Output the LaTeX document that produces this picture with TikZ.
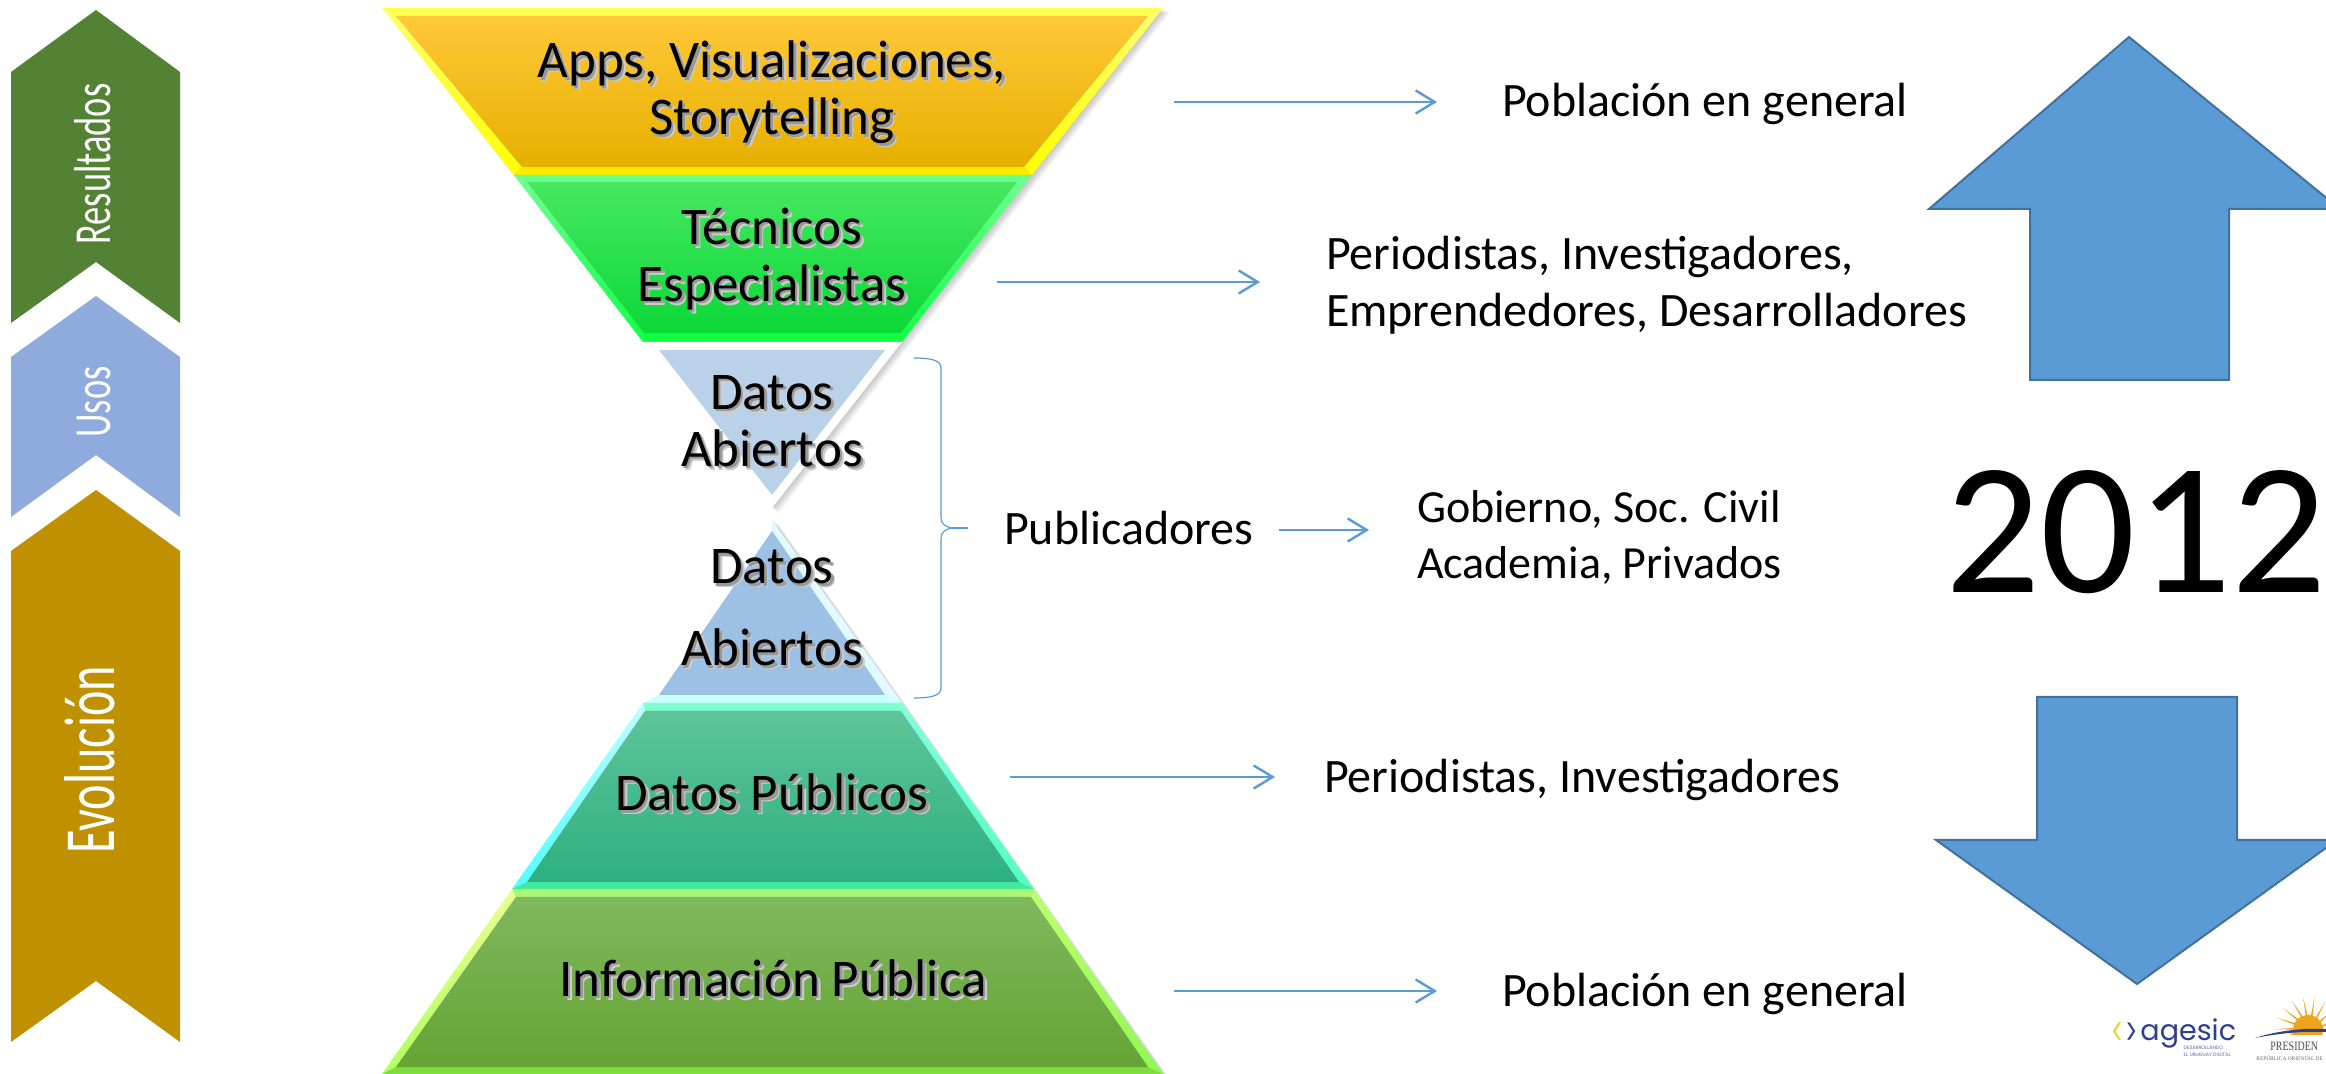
\documentclass[tikz,border=0pt]{standalone}
\usepackage{fontspec}
\usepackage{graphicx}
\setmainfont{Carlito}
\newfontfamily\logofont{Poppins}
\newfontfamily\serifface{Liberation Serif}
\usetikzlibrary{arrows.meta,shadings}
\definecolor{lineblue}{HTML}{5B9BD5}
\definecolor{arrowedge}{HTML}{41719C}
\definecolor{chevgreen}{HTML}{548235}
\definecolor{chevblue}{HTML}{8FAADC}
\definecolor{chevgold}{HTML}{BF9000}
\definecolor{agesicblue}{HTML}{2E3F8F}
\definecolor{agesicyellow}{HTML}{E6D522}
\definecolor{sunorange}{HTML}{EFA31D}
% hourglass colours
\definecolor{aband}{HTML}{FFFF50}\definecolor{asideT}{HTML}{FFFF70}\definecolor{asideB}{HTML}{FFFF00}\definecolor{abot}{HTML}{FFE800}
\definecolor{ainT}{HTML}{FFC838}\definecolor{ainM}{HTML}{FFC000}\definecolor{ainB}{HTML}{E6B000}
\definecolor{bband}{HTML}{66FF88}\definecolor{bsideT}{HTML}{70FF90}\definecolor{bsideB}{HTML}{10FF48}\definecolor{bbot}{HTML}{10FF40}
\definecolor{binT}{HTML}{46E860}\definecolor{binM}{HTML}{1AE846}\definecolor{binB}{HTML}{0CD838}
\definecolor{cin}{HTML}{B9D2EA}
\definecolor{dside}{HTML}{E1FAFF}\definecolor{dbot}{HTML}{C8FFFF}\definecolor{din}{HTML}{9DC1E5}
\definecolor{eband}{HTML}{80FFD0}\definecolor{elT}{HTML}{BEFFFF}\definecolor{elB}{HTML}{50FFFF}\definecolor{erT}{HTML}{82FFE1}\definecolor{erB}{HTML}{50FFBE}\definecolor{ebot}{HTML}{40E8A0}
\definecolor{einT}{HTML}{5EC49A}\definecolor{einB}{HTML}{2EB080}
\definecolor{fband}{HTML}{A8F878}\definecolor{flT}{HTML}{E8FF90}\definecolor{flB}{HTML}{B0FF60}\definecolor{frT}{HTML}{BEFF70}\definecolor{frB}{HTML}{90F850}\definecolor{fbot}{HTML}{80DD40}
\definecolor{finT}{HTML}{80B85C}\definecolor{finB}{HTML}{64A434}
\newcommand\sh[1]{\leavevmode\rlap{\raisebox{-2pt}{\hspace*{2pt}\textcolor{black!20}{#1}}}\rlap{\raisebox{-1.2pt}{\hspace*{1.2pt}\textcolor{black!40}{#1}}}#1}
\tikzset{
  flow/.style={draw=lineblue,line width=1.2pt,-{Straight Barb[length=9.5pt,width=11.5pt,line width=1.2pt]}},
  bracewire/.style={draw=lineblue,line width=0.6pt},
  bigarrow/.style={fill=lineblue,draw=arrowedge,line width=1pt,line join=miter},
  plain/.style={inner sep=0pt,outer sep=0pt,align=left,font=\fontsize{24}{28.5}\selectfont},
  tier/.style={inner sep=0pt,outer sep=0pt,align=center,font=\fontsize{26.5}{28.5}\selectfont},
  side/.style={inner sep=0pt,outer sep=0pt,text=white,rotate=90},
  soft/.style={fill=black,fill opacity=0.03},
}
\begin{document}
\begin{tikzpicture}[x=0.5pt,y=-0.5pt]
\clip (0,0) rectangle (2326,1074);
\fill[white] (0,0) rectangle (2326,1074);

% side chevrons
\fill[chevgreen] (11,72) -- (96,10) -- (180,72) -- (180,323) -- (96,262) -- (11,323) -- cycle;
\fill[chevblue] (11,357) -- (96,296) -- (180,357) -- (180,517) -- (96,455) -- (11,517) -- cycle;
\fill[chevgold] (11,551) -- (96,490) -- (180,551) -- (180,1042) -- (96,981) -- (11,1042) -- cycle;
\node[side,anchor=base] (resultados) at (110,164) {\fontsize{26}{26}\selectfont\scalebox{0.7}[1]{Resultados}};
\node[side,anchor=base] (usos) at (110,402) {\fontsize{26}{26}\selectfont\scalebox{0.7}[1]{Usos}};
\node[side,anchor=base] (evolucion) at (114,760) {\fontsize{36}{36}\selectfont\scalebox{0.67}[1]{Evolución}};

% soft drop shadows of the hourglass
\foreach \d in {1,2,3,4,5,6,7}{
  \fill[soft,shift={(\d,\d*0.7)}] (382,8) -- (1163,8) -- (772,508) -- cycle;
  \fill[soft,shift={(\d,\d*0.7)}] (772,520) -- (1163,1074) -- (382,1074) -- cycle;
}

% tier 1
\fill[aband] (382,8) -- (1163,8) -- (1148,16) -- (396,16) -- cycle;
\shade[top color=asideT,bottom color=asideB] (382,8) -- (396,16) -- (522,167) -- (514,175) -- cycle;
\shade[top color=asideT,bottom color=asideB] (1163,8) -- (1148,16) -- (1024,167) -- (1032,175) -- cycle;
\fill[abot] (514,175) -- (522,167) -- (1024,167) -- (1032,175) -- cycle;
\shade[top color=ainT,middle color=ainM,bottom color=ainB] (396,16) -- (1148,16) -- (1024,167) -- (522,167) -- cycle;

% tier 2
\fill[bband] (514,175) -- (1032,175) -- (1017,182) -- (527,182) -- cycle;
\shade[top color=bsideT,bottom color=bsideB] (514,175) -- (527,182) -- (644,333) -- (643,342) -- cycle;
\shade[top color=bsideT,bottom color=bsideB] (1032,175) -- (1017,182) -- (901,333) -- (902,342) -- cycle;
\fill[bbot] (643,342) -- (644,333) -- (901,333) -- (902,342) -- cycle;
\shade[top color=binT,middle color=binM,bottom color=binB] (527,182) -- (1017,182) -- (901,333) -- (644,333) -- cycle;

% tier 3
\fill[white] (643,342) -- (902,342) -- (772,508) -- cycle;
\fill[cin] (659,350) -- (885,350) -- (772,495) -- cycle;

% tier 4
\fill[dside] (772,520) -- (902,703) -- (643,703) -- cycle;
\fill[white] (772,520) -- (772,531) -- (659,695) -- (643,703) -- cycle;
\fill[dbot] (659,695) -- (885,695) -- (902,703) -- (643,703) -- cycle;
\fill[din] (772,531) -- (885,695) -- (659,695) -- cycle;

% tier 5
\fill[eband] (643,703) -- (902,703) -- (901,711) -- (645,711) -- cycle;
\shade[top color=elT,bottom color=elB] (643,703) -- (645,711) -- (527,882) -- (512,889) -- cycle;
\shade[top color=erT,bottom color=erB] (902,703) -- (901,711) -- (1019,882) -- (1034,889) -- cycle;
\fill[ebot] (512,889) -- (527,882) -- (1019,882) -- (1034,889) -- cycle;
\shade[top color=einT,bottom color=einB] (645,711) -- (901,711) -- (1019,882) -- (527,882) -- cycle;

% tier 6
\fill[fband] (512,889) -- (1034,889) -- (1031,897) -- (516,897) -- cycle;
\shade[top color=flT,bottom color=flB] (512,889) -- (516,897) -- (396,1067) -- (382,1074) -- cycle;
\shade[top color=frT,bottom color=frB] (1034,889) -- (1031,897) -- (1148,1067) -- (1163,1074) -- cycle;
\fill[fbot] (382,1074) -- (396,1067) -- (1148,1067) -- (1163,1074) -- cycle;
\shade[top color=finT,bottom color=finB] (516,897) -- (1031,897) -- (1148,1067) -- (396,1067) -- cycle;

% tier labels
\node[tier] (apps) at (772,94.5) {\sh{Apps, Visualizaciones,}\\\sh{Storytelling}};
\node[tier] (tecnicos) at (772,261) {\sh{Técnicos}\\\sh{Especialistas}};
\node[tier] (abiertosA) at (772,423) {\sh{Datos}\\\sh{Abiertos}};
\node[tier,font=\fontsize{26.5}{41}\selectfont] (abiertosB) at (772,610) {\sh{Datos}\\\sh{Abiertos}};
\node[tier,anchor=base] (publicos) at (772,811) {\sh{Datos Públicos}};
\node[tier,anchor=base] (informacion) at (773,996) {\sh{Información Pública}};

% right-hand labels
\node[plain,anchor=base west] (pob1) at (1502,117) {Población en general};
\node[plain,anchor=west] (periodEmp) at (1326,285) {Periodistas, Investigadores,\\Emprendedores, Desarrolladores};
\node[plain,anchor=base west] (publicadores) at (1004,545) {Publicadores};
\node[plain,anchor=west,font=\fontsize{23}{28}\selectfont] (gobierno) at (1417,537) {Gobierno, Soc. Civil\\Academia, Privados};
\node[plain,anchor=base west] (period) at (1324,793) {Periodistas, Investigadores};
\node[plain,anchor=base west] (pob2) at (1502,1007) {Población en general};

% connectors
\coordinate (a1s) at (1174,102); \coordinate (a1e) at (1437,102);
\coordinate (a2s) at (997,282);  \coordinate (a2e) at (1260,282);
\coordinate (a3s) at (1279,530); \coordinate (a3e) at (1369,530);
\coordinate (a4s) at (1010,777); \coordinate (a4e) at (1275,777);
\coordinate (a5s) at (1174,991); \coordinate (a5e) at (1437,991);
\draw[flow] (a1s) -- (a1e);
\draw[flow] (a2s) -- (a2e);
\draw[flow] (a3s) -- (a3e);
\draw[flow] (a4s) -- (a4e);
\draw[flow] (a5s) -- (a5e);

% brace
\coordinate (bt) at (914,358); \coordinate (bm) at (968,528); \coordinate (bb) at (914,698);
\coordinate (bn) at (952,528);
\draw[bracewire] (bt) .. controls (930,358) and (941,360) .. (941,368) -- (941,518)
  .. controls (941,524) and (946,527) .. (bn)
  .. controls (946,529) and (941,532) .. (941,538) -- (941,688)
  .. controls (941,696) and (930,698) .. (bb);
\draw[draw=lineblue,line width=1pt] (bn) -- (bm);

% big arrows
\draw[bigarrow] (2129,37) -- (2340,209) -- (2229,209) -- (2229,380) -- (2030,380) -- (2030,209) -- (1929,209) -- cycle;
\draw[bigarrow] (2037,697) -- (2237,697) -- (2237,840) -- (2337,840) -- (2137,984) -- (1936,840) -- (2037,840) -- cycle;
\node[inner sep=0pt,anchor=base] (year) at (2136,593) {\fontsize{94}{94}\selectfont 2012};

% agesic logo
\node[inner sep=0pt,anchor=base,text=agesicyellow] (lt) at (2118,1045) {\logofont\fontsize{19}{19}\selectfont\scalebox{0.6}[1]{<}};
\node[inner sep=0pt,anchor=base,text=agesicblue] (gt) at (2132,1045) {\logofont\fontsize{19}{19}\selectfont\scalebox{0.6}[1]{>}};
\node[inner sep=0pt,anchor=base west,text=agesicblue] (agesic) at (2140,1040) {\logofont\fontsize{14.3}{14.3}\selectfont agesic};
\node[inner sep=0pt,anchor=north east,align=left,text=agesicblue!80,font=\logofont\fontsize{2.4}{3.4}\selectfont] (lema) at (2231,1046) {DESARROLLANDO\\EL URUGUAY DIGITAL};

% presidencia logo
\begin{scope}
\clip (2240,990) rectangle (2326,1034);
\foreach \a in {0,20,...,340}{
  \fill[sunorange] (2308,1030) ++(\a+11:12) -- ++(\a-4:22) -- (2308,1030) ++(\a-11:12) -- cycle;
}
\fill[sunorange] (2308,1030) circle[radius=15];
\end{scope}
\fill[agesicblue] (2255,1038) .. controls (2280,1030) and (2305,1028) .. (2326,1029) -- (2326,1032) .. controls (2305,1031) and (2280,1033) .. (2255,1038) -- cycle;
\node[inner sep=0pt,anchor=base west,text=black!70] (presid) at (2270,1050) {\serifface\fontsize{6.4}{6.4}\selectfont\scalebox{0.78}[1]{PRESIDEN}};
\node[inner sep=0pt,anchor=base west,text=black!60] (repub) at (2256,1060) {\serifface\fontsize{2.7}{2.7}\selectfont REPÚBLICA ORIENTAL DE};
\end{tikzpicture}
\end{document}
